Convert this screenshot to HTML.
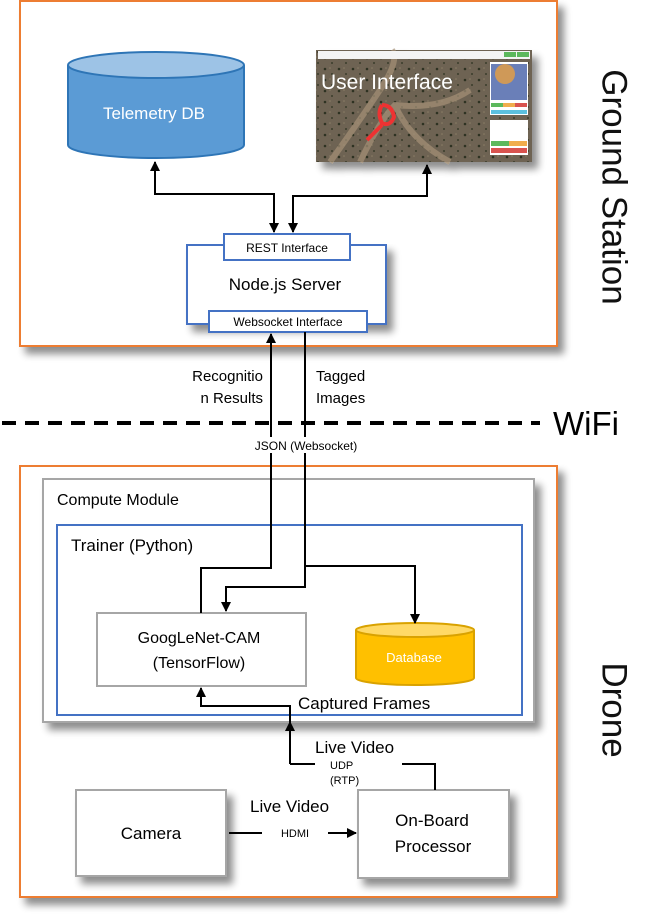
<!DOCTYPE html>
<html><head><meta charset="utf-8"><style>
html,body{margin:0;padding:0;background:#fff;}
svg{display:block;font-family:"Liberation Sans",sans-serif;}
</style></head><body>
<svg width="664" height="917" viewBox="0 0 664 917" xmlns="http://www.w3.org/2000/svg">
<defs>
<filter id="sh" x="-10%" y="-10%" width="130%" height="130%"><feGaussianBlur in="SourceAlpha" stdDeviation="4"/><feOffset dx="6" dy="7"/><feComponentTransfer><feFuncA type="linear" slope="0.45"/></feComponentTransfer><feMerge><feMergeNode/><feMergeNode in="SourceGraphic"/></feMerge></filter>
<marker id="ah" viewBox="0 0 10 10" refX="9" refY="5" markerWidth="5" markerHeight="5" orient="auto-start-reverse"><path d="M0,0 L10,5 L0,10 z" fill="#000"/></marker>
<pattern id="sat" width="14" height="11" patternUnits="userSpaceOnUse"><rect width="14" height="11" fill="#6e6352"/><circle cx="3" cy="3" r="1.3" fill="#2f3324"/><circle cx="10" cy="8" r="1" fill="#3a3d2c"/><circle cx="8" cy="2" r="0.8" fill="#8a7d66"/></pattern>
</defs>

<!-- Ground station -->
<rect x="20" y="1" width="537" height="345" fill="#fff" stroke="#ed7d31" stroke-width="2" filter="url(#sh)"/>
<text transform="translate(614,187) rotate(90)" font-size="35" text-anchor="middle" dominant-baseline="central" fill="#111">Ground Station</text>

<!-- Telemetry DB -->
<path d="M68,65 L68,145 A88,13 0 0 0 244,145 L244,65" fill="#5b9bd5" stroke="#2e75b6" stroke-width="2"/>
<ellipse cx="156" cy="65" rx="88" ry="13" fill="#9dc3e6" stroke="#2e75b6" stroke-width="2"/>
<text x="154" y="119" font-size="17" fill="#fff" text-anchor="middle">Telemetry DB</text>

<!-- UI screenshot -->
<g filter="url(#sh)">
<rect x="316" y="50" width="216" height="112" fill="url(#sat)"/>
<path d="M330,162 Q360,120 380,90 Q400,60 392,50 M360,162 Q380,120 395,105 Q440,110 470,90 M395,105 Q410,140 450,162" stroke="#a59277" stroke-width="6" fill="none" opacity="0.7"/>
<rect x="318" y="51" width="212" height="8" fill="#f4f4f4"/>
<rect x="504" y="52" width="12" height="5" fill="#5cb85c"/><rect x="517" y="52" width="12" height="5" fill="#5cb85c"/>
<rect x="490" y="62" width="38" height="53" fill="#fff"/>
<rect x="491" y="64" width="36" height="36" fill="#6a7fb8"/>
<circle cx="505" cy="74" r="10" fill="#e8a040" opacity="0.8"/>
<rect x="491" y="103" width="12" height="4" fill="#5cb85c"/><rect x="503" y="103" width="12" height="4" fill="#f0ad4e"/><rect x="515" y="103" width="12" height="4" fill="#d9534f"/>
<rect x="491" y="110" width="36" height="4" fill="#5bc0de"/>
<rect x="490" y="120" width="38" height="35" fill="#fff"/>
<rect x="491" y="141" width="18" height="5" fill="#5cb85c"/><rect x="509" y="141" width="18" height="5" fill="#f0ad4e"/>
<rect x="491" y="148" width="36" height="5" fill="#d9534f"/>
<path d="M382,105 q-5,8 0,18 q8,4 12,-6 q-2,-12 -12,-12 M382,125 L367,140" stroke="#e33" stroke-width="4" fill="none"/>
</g>
<text x="321" y="89" font-size="21" fill="#fff">User Interface</text>

<!-- Node.js -->
<g filter="url(#sh)"><rect x="187" y="245" width="199" height="79" fill="#fff" stroke="#4472c4" stroke-width="2"/></g>
<rect x="224" y="234" width="126" height="26" fill="#fff" stroke="#4472c4" stroke-width="2"/>
<text x="287" y="252" font-size="12" text-anchor="middle">REST Interface</text>
<text x="285" y="290" font-size="17" text-anchor="middle">Node.js Server</text>
<rect x="209" y="311" width="158" height="21" fill="#fff" stroke="#4472c4" stroke-width="2"/>
<text x="288" y="326" font-size="12" text-anchor="middle">Websocket Interface</text>

<text x="263" y="381" font-size="15" text-anchor="end">Recognitio</text>
<text x="263" y="403" font-size="15" text-anchor="end">n Results</text>
<text x="316" y="381" font-size="15">Tagged</text>
<text x="316" y="403" font-size="15">Images</text>

<line x1="2" y1="423" x2="540" y2="423" stroke="#000" stroke-width="4" stroke-dasharray="14,9"/>
<text x="553" y="435" font-size="33">WiFi</text>

<!-- Drone -->
<rect x="20" y="466" width="537" height="431" fill="#fff" stroke="#ed7d31" stroke-width="2" filter="url(#sh)"/>
<text transform="translate(614,710) rotate(90)" font-size="35" text-anchor="middle" dominant-baseline="central" fill="#111">Drone</text>

<g filter="url(#sh)"><rect x="43" y="479" width="491" height="243" fill="#fff" stroke="#a6a6a6" stroke-width="2"/></g>
<text x="57" y="505" font-size="16">Compute Module</text>
<rect x="57" y="525" width="465" height="190" fill="#fff" stroke="#4472c4" stroke-width="2"/>
<text x="71" y="551" font-size="17">Trainer (Python)</text>

<rect x="97" y="613" width="209" height="73" fill="#fff" stroke="#a6a6a6" stroke-width="2"/>
<text x="199" y="643" font-size="16" text-anchor="middle">GoogLeNet-CAM</text>
<text x="199" y="668" font-size="16" text-anchor="middle">(TensorFlow)</text>

<path d="M356,630 L356,678 A59,7 0 0 0 474,678 L474,630" fill="#ffc000" stroke="#d9a200" stroke-width="2"/>
<ellipse cx="415" cy="630" rx="59" ry="7" fill="#ffd966" stroke="#d9a200" stroke-width="2"/>
<text x="414" y="662" font-size="13" fill="#fff" text-anchor="middle">Database</text>

<text x="298" y="709" font-size="17">Captured Frames</text>

<g filter="url(#sh)">
<rect x="76" y="790" width="150" height="86" fill="#fff" stroke="#a6a6a6" stroke-width="2"/>
<rect x="358" y="790" width="151" height="88" fill="#fff" stroke="#a6a6a6" stroke-width="2"/>
</g>
<text x="151" y="839" font-size="17" text-anchor="middle">Camera</text>
<text x="432" y="826" font-size="17" text-anchor="middle">On-Board</text>
<text x="433" y="852" font-size="17" text-anchor="middle">Processor</text>

<!-- all connectors on top -->
<g stroke="#000" stroke-width="2" fill="none">
<polyline points="155,162 155,194 274,194 274,232" marker-start="url(#ah)" marker-end="url(#ah)"/>
<polyline points="293,232 293,196 427,196 427,165" marker-start="url(#ah)" marker-end="url(#ah)"/>
<polyline points="201,613 201,568 271,568 271,334" marker-end="url(#ah)"/>
<polyline points="305,332 305,587 226,587 226,611" marker-end="url(#ah)"/>
<polyline points="305,566 415,566 415,623" marker-end="url(#ah)"/>
<polyline points="290,764 290,706 201,706 201,688" marker-end="url(#ah)"/>
<line x1="290" y1="764" x2="290" y2="722" marker-end="url(#ah)"/>
<polyline points="290,764 315,764"/>
<polyline points="402,764 435,764 435,790"/>
<line x1="229" y1="833" x2="262" y2="833"/>
<line x1="328" y1="833" x2="356" y2="833" marker-end="url(#ah)"/>
</g>
<rect x="232" y="437" width="146" height="16" fill="#fff"/>
<text x="306" y="450" font-size="12" text-anchor="middle">JSON (Websocket)</text>
<text x="315" y="753" font-size="17">Live Video</text>
<text x="330" y="769" font-size="11">UDP</text>
<text x="330" y="784" font-size="11">(RTP)</text>
<text x="250" y="812" font-size="17">Live Video</text>
<text x="295" y="837" font-size="11" text-anchor="middle">HDMI</text>
</svg>
</body></html>
